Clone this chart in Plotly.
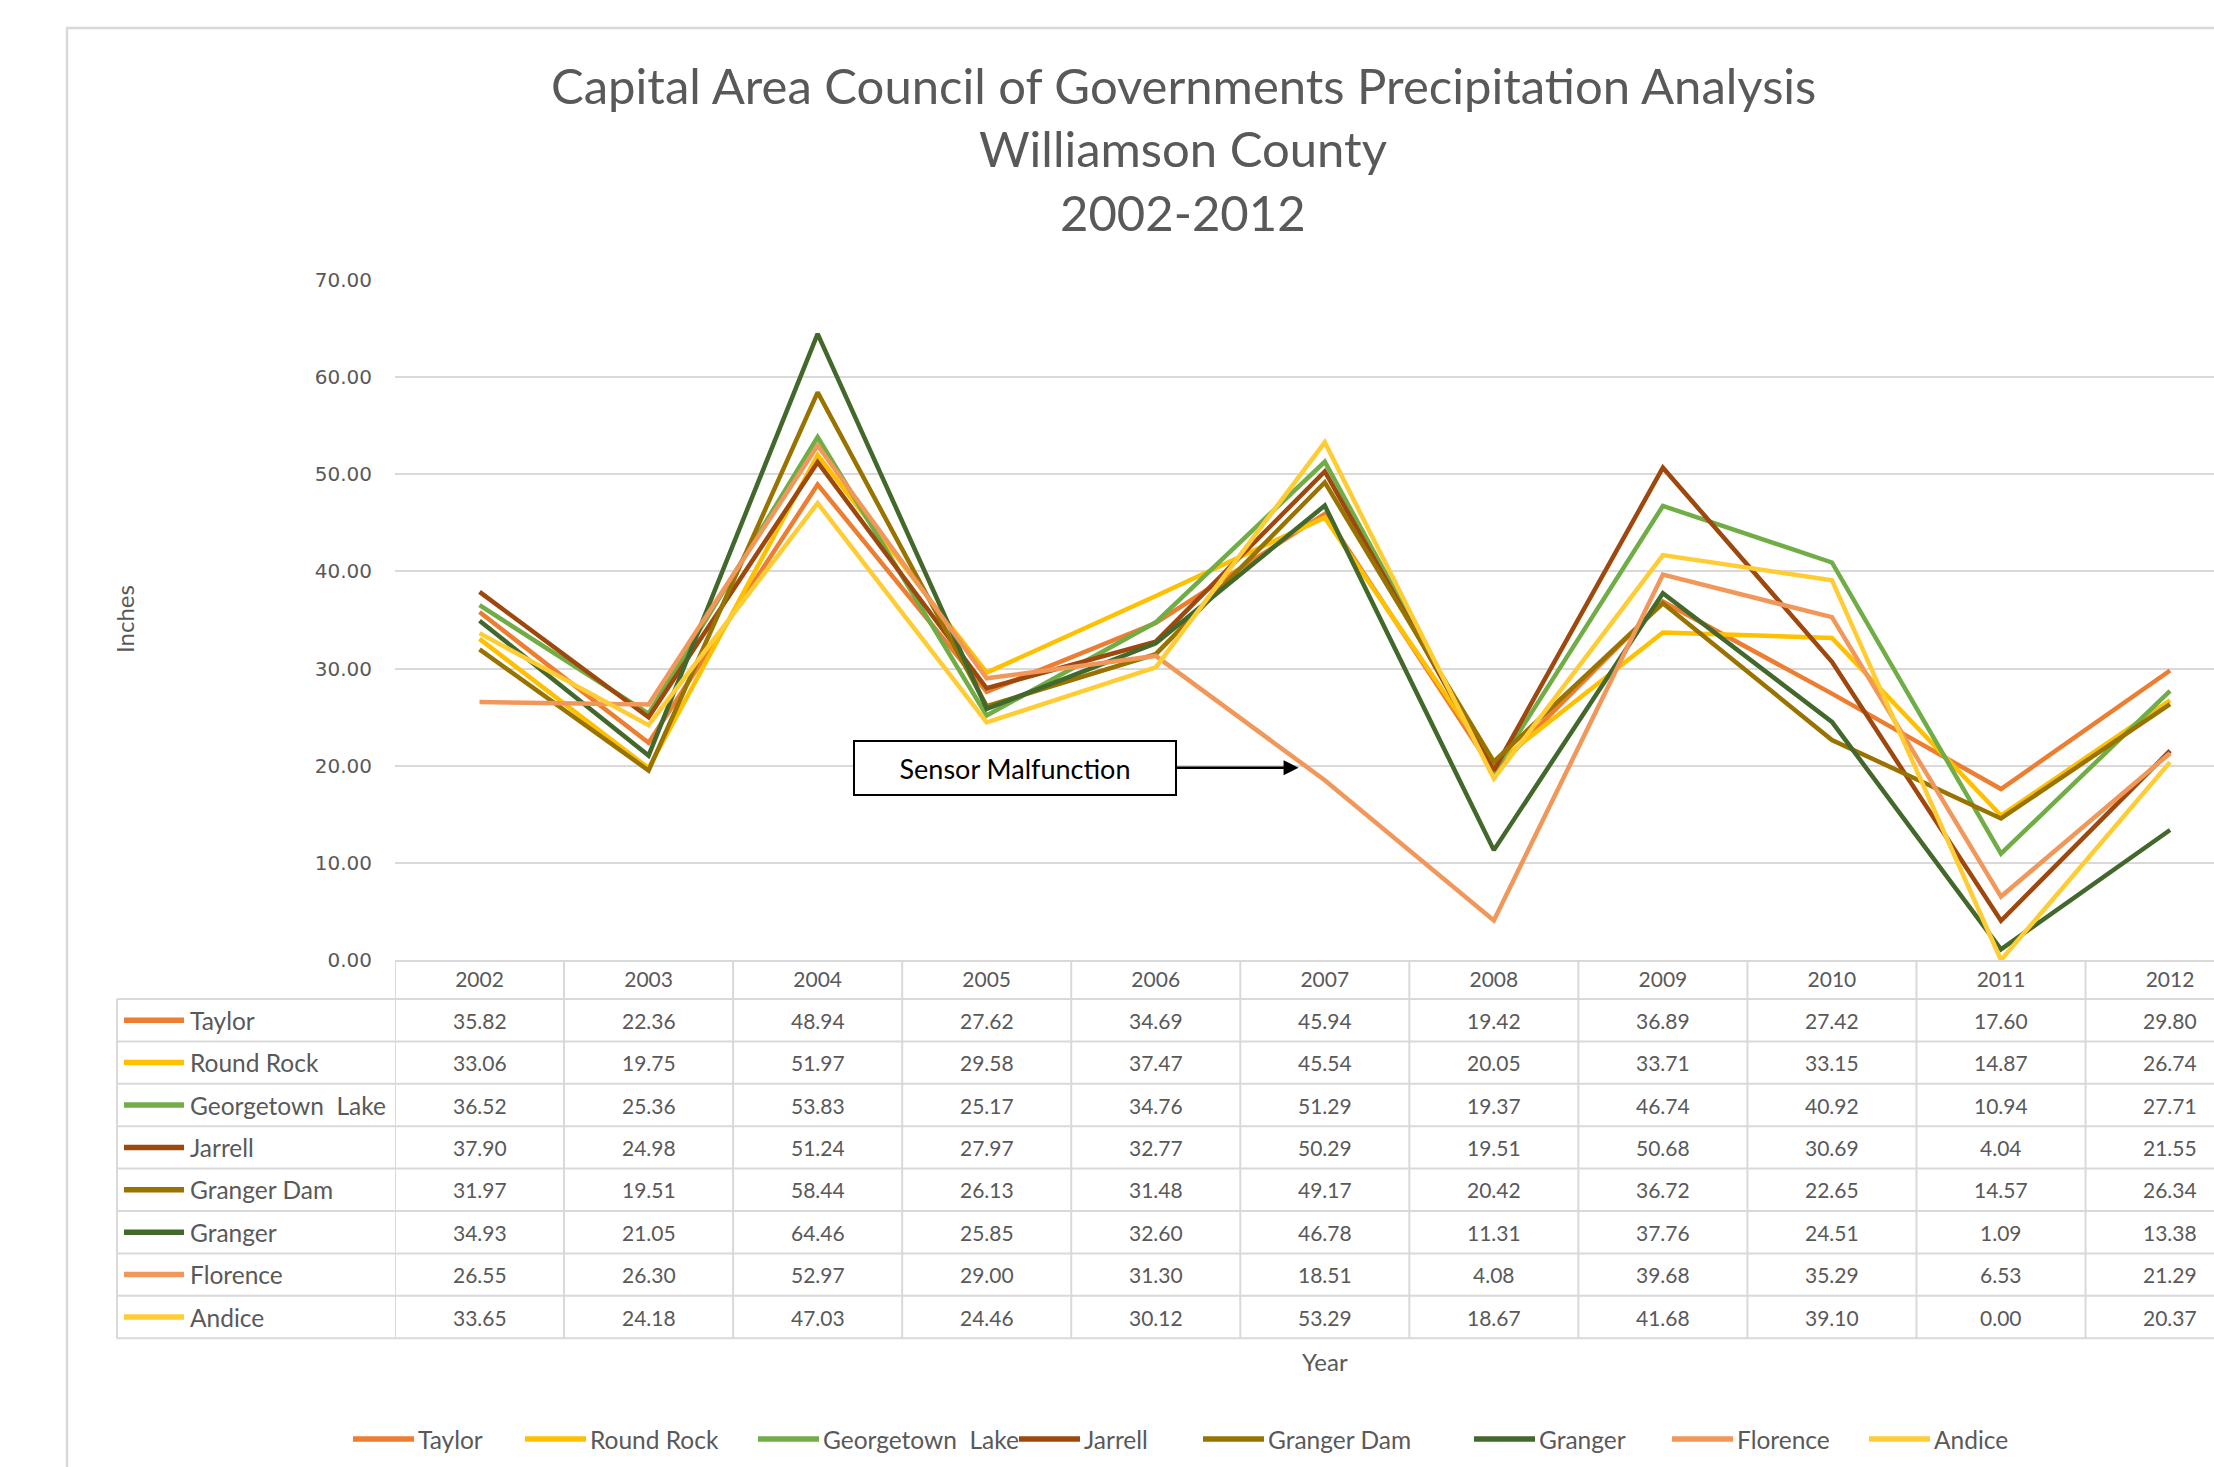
import plotly.graph_objects as go

years = [2002, 2003, 2004, 2005, 2006, 2007, 2008, 2009, 2010, 2011, 2012]
series_names = ["Taylor", "Round Rock", "Georgetown\u00a0 Lake", "Jarrell",
                "Granger Dam", "Granger", "Florence", "Andice"]
taylor      = [35.82, 22.36, 48.94, 27.62, 34.69, 45.94, 19.42, 36.89, 27.42, 17.60, 29.80]
round_rock  = [33.06, 19.75, 51.97, 29.58, 37.47, 45.54, 20.05, 33.71, 33.15, 14.87, 26.74]
georgetown  = [36.52, 25.36, 53.83, 25.17, 34.76, 51.29, 19.37, 46.74, 40.92, 10.94, 27.71]
jarrell     = [37.90, 24.98, 51.24, 27.97, 32.77, 50.29, 19.51, 50.68, 30.69, 4.04, 21.55]
granger_dam = [31.97, 19.51, 58.44, 26.13, 31.48, 49.17, 20.42, 36.72, 22.65, 14.57, 26.34]
granger     = [34.93, 21.05, 64.46, 25.85, 32.60, 46.78, 11.31, 37.76, 24.51, 1.09, 13.38]
florence    = [26.55, 26.30, 52.97, 29.00, 31.30, 18.51, 4.08, 39.68, 35.29, 6.53, 21.29]
andice      = [33.65, 24.18, 47.03, 24.46, 30.12, 53.29, 18.67, 41.68, 39.10, 0.00, 20.37]
series_values = [taylor, round_rock, georgetown, jarrell, granger_dam, granger, florence, andice]
colors = ["#ED7D31", "#FFC000", "#70AD47", "#9E480E", "#997300", "#43682B", "#F1975A", "#FFCD33"]
yticks = [0, 10, 20, 30, 40, 50, 60, 70]
title_lines = ["Capital Area Council of Governments Precipitation Analysis",
               "Williamson County", "2002-2012"]
annotation_text = "Sensor Malfunction"
annotation_point = (2006.845, 19.8)
annotation_tail = (2005.17, 19.8)

# layout geometry (pixels)
W, H = 2214, 1467
L, T, B = 395, 280, 960
PW, PH = W - L, B - T
def px(x):
    return (x - L) / PW
def py(y):
    return (B - y) / PH

GRID = "#D9D9D9"
TXT = "#595959"
FONT = "Lato"
LABEL_SIZE = 24.5
NUM_SIZE = 21

fig = go.Figure()
for name, vals, col in zip(series_names, series_values, colors):
    fig.add_trace(go.Scatter(x=years, y=vals, name=name, mode="lines",
                             line=dict(color=col, width=4.5), showlegend=False))

shapes = []
annotations = []

# outer chart frame
shapes.append(dict(type="rect", xref="paper", yref="paper",
                   x0=px(67), x1=px(2300), y0=py(1550), y1=py(28),
                   line=dict(color=GRID, width=2.5), layer="below"))

# title
for line, yc in zip(title_lines, [85, 148, 212]):
    annotations.append(dict(text=line, xref="paper", yref="paper",
                            x=px(1183), y=py(yc), xanchor="center", yanchor="middle",
                            showarrow=False, font=dict(family=FONT, size=49, color=TXT)))

# axis titles
annotations.append(dict(text="Inches", xref="paper", yref="paper", x=px(124), y=py(619),
                        textangle=-90, showarrow=False, xanchor="center", yanchor="middle",
                        font=dict(family=FONT, size=24, color=TXT)))
annotations.append(dict(text="Year", xref="paper", yref="paper", x=px(1325), y=py(1361),
                        showarrow=False, xanchor="center", yanchor="middle",
                        font=dict(family=FONT, size=24, color=TXT)))

# data table
header_bottom = 999
row_h = 42.4
n = len(series_names)
table_left = 117
table_bottom = header_bottom + n * row_h
for k in range(n + 1):
    yy = header_bottom + k * row_h
    shapes.append(dict(type="line", xref="paper", yref="paper", x0=px(table_left), x1=1.02,
                       y0=py(yy), y1=py(yy), line=dict(color=GRID, width=2)))
shapes.append(dict(type="line", xref="paper", yref="paper", x0=px(table_left), x1=px(table_left),
                   y0=py(header_bottom), y1=py(table_bottom), line=dict(color=GRID, width=2)))
for yr in years:
    shapes.append(dict(type="line", xref="x", yref="paper", x0=yr - 0.5, x1=yr - 0.5,
                       y0=0, y1=py(table_bottom), line=dict(color=GRID, width=2)))
for k, (name, vals, col) in enumerate(zip(series_names, series_values, colors)):
    yc = header_bottom + (k + 0.5) * row_h
    shapes.append(dict(type="line", xref="paper", yref="paper", x0=px(124), x1=px(184),
                       y0=py(yc), y1=py(yc), line=dict(color=col, width=5.5)))
    annotations.append(dict(text=name, xref="paper", yref="paper", x=px(188), y=py(yc),
                            xanchor="left", yanchor="middle", showarrow=False,
                            font=dict(family=FONT, size=LABEL_SIZE, color=TXT)))
    for yr, v in zip(years, vals):
        annotations.append(dict(text=f"{v:.2f}", xref="x", yref="paper", x=yr, y=py(yc),
                                xanchor="center", yanchor="middle", showarrow=False,
                                font=dict(family=FONT, size=NUM_SIZE, color=TXT)))

# bottom legend (series keys)
legend_x = [353, 525, 758, 1019, 1203, 1474, 1672, 1869]
legend_y = 1439
for name, col, lx in zip(series_names, colors, legend_x):
    shapes.append(dict(type="line", xref="paper", yref="paper", x0=px(lx), x1=px(lx + 61),
                       y0=py(legend_y), y1=py(legend_y), line=dict(color=col, width=5.5)))
    annotations.append(dict(text=name, xref="paper", yref="paper", x=px(lx + 63), y=py(legend_y),
                            xanchor="left", yanchor="middle", showarrow=False,
                            font=dict(family=FONT, size=LABEL_SIZE, color=TXT)))

# sensor malfunction callout
annotations.append(dict(text=annotation_text, xref="x", yref="y",
                        x=annotation_point[0], y=annotation_point[1],
                        axref="x", ayref="y", ax=annotation_tail[0], ay=annotation_tail[1],
                        showarrow=True, arrowhead=2, arrowsize=1.2, arrowwidth=2.5,
                        arrowcolor="black", bordercolor="black", borderwidth=2,
                        bgcolor="white", width=316, height=48, borderpad=2,
                        font=dict(family=FONT, size=27, color="black")))

fig.update_layout(
    width=W, height=H,
    margin=dict(l=L, r=0, t=T, b=H - B, pad=0),
    paper_bgcolor="white", plot_bgcolor="white",
    shapes=shapes, annotations=annotations,
    showlegend=False,
    xaxis=dict(range=[2001.5, 2012.26], tickvals=years, ticktext=[str(y) for y in years],
               showgrid=False, zeroline=False, showline=True, linecolor=GRID, linewidth=2,
               ticks="", tickfont=dict(family=FONT, size=21, color=TXT),
               ticklabelstandoff=0),
    yaxis=dict(range=[0, 70], tickvals=yticks, ticktext=[f"{v:.2f}" for v in yticks],
               showgrid=True, gridcolor=GRID, gridwidth=2, zeroline=False, showline=False,
               ticks="", tickfont=dict(family="DejaVu Sans", size=20, color=TXT),
               ticklabelstandoff=22),
)

fig.write_html("out.html", config={"displayModeBar": False},
               post_script="document.body.style.margin='0';")
